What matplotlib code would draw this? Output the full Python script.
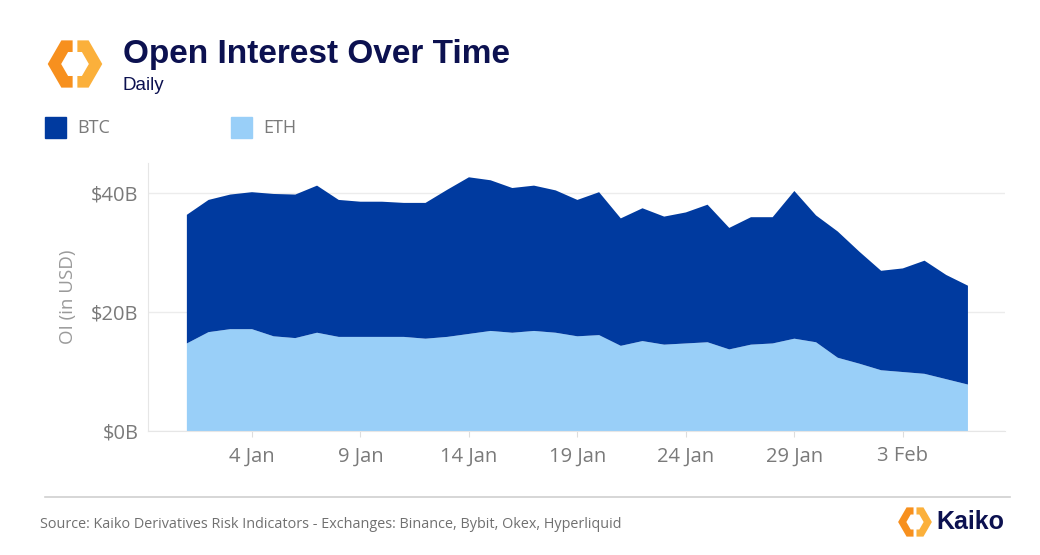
import matplotlib
matplotlib.use("Agg")
import matplotlib.pyplot as plt
import matplotlib.dates as mdates
import pandas as pd

# daily open interest, $B
dates = pd.date_range("2025-01-01", "2025-02-06", freq="D")
eth = [14.7, 16.6, 17.1, 17.1, 15.9, 15.6, 16.5, 15.8, 15.8, 15.8, 15.8, 15.5,
       15.8, 16.3, 16.8, 16.5, 16.8, 16.5, 15.9, 16.1, 14.3, 15.1, 14.5, 14.7,
       14.9, 13.7, 14.5, 14.7, 15.5, 14.9, 12.3, 11.3, 10.2, 9.9, 9.6, 8.7, 7.8]
btc = [21.6, 22.2, 22.6, 23.0, 23.9, 24.1, 24.7, 23.0, 22.7, 22.7, 22.5, 22.8,
       24.7, 26.3, 25.3, 24.3, 24.4, 23.9, 22.9, 24.0, 21.4, 22.3, 21.5, 22.0,
       23.1, 20.4, 21.4, 21.2, 24.8, 21.3, 21.2, 18.8, 16.7, 17.4, 19.0, 17.5, 16.6]
yticks = [0, 20, 40]
ytick_labels = ["$0B", "$20B", "$40B"]

BTC_C = "#003a9f"
ETH_C = "#99cff8"
NAVY = "#0c1150"
GREY = "#7a7a7a"

fig = plt.figure(figsize=(10.4, 5.55), dpi=100)
fig.patch.set_facecolor("white")

ax = fig.add_axes([148 / 1040, 1 - 431 / 555, (1005 - 148) / 1040, (431 - 163) / 555])
ax.stackplot(dates, eth, btc, colors=[ETH_C, BTC_C], linewidth=0)
ax.set_ylim(0, 45)
ax.set_xlim(dates[0] - pd.Timedelta(hours=43), dates[-1] + pd.Timedelta(hours=41))
ax.set_yticks(yticks)
ax.set_yticklabels(ytick_labels)
ax.set_xticks(dates[3::5])
ax.xaxis.set_major_formatter(mdates.DateFormatter("%-d %b"))
ax.grid(axis="y", color="#ececec", linewidth=1)
ax.set_axisbelow(True)
for s in ["top", "right"]:
    ax.spines[s].set_visible(False)
for s in ["left", "bottom"]:
    ax.spines[s].set_color("#e6e6e6")
ax.tick_params(axis="y", length=0, pad=7, labelsize=14.5, labelcolor=GREY)
ax.tick_params(axis="x", length=4, color="#dddddd", pad=7, labelsize=14.5, labelcolor=GREY)
for lab in ax.get_xticklabels() + ax.get_yticklabels():
    lab.set_fontfamily("Open Sans")
ax.set_ylabel("OI (in USD)", fontsize=13.5, color="#9a9a9a", family="Open Sans")
ax.yaxis.set_label_coords((68 - 148) / 857, 0.5)
ax.yaxis.label.set_va("center")

# title block
fig.text(123 / 1040, 1 - 54 / 555, "Open Interest Over Time", fontsize=24, fontweight="bold",
         color=NAVY, family="Liberation Sans", va="center")
fig.text(123 / 1040, 1 - 86 / 555, "Daily", fontsize=13.5, color=NAVY,
         family="Liberation Sans", va="center")


def draw_logo(rect):
    lax = fig.add_axes(rect)
    lax.set_xlim(-1.1, 1.1)
    lax.set_ylim(-1.1, 1.1)
    lax.set_aspect("equal")
    lax.axis("off")
    r = 0.78
    h = 0.866 * r
    lw = rect[2] * 1040 * 0.135
    pieces = [
        ([(-0.09, h), (-0.5 * r, h), (-r, 0), (-0.5 * r, -h), (-0.09, -h)], "#f7901e"),
        ([(0.09, -h), (0.5 * r, -h), (r, 0), (0.5 * r, h), (0.09, h)], "#fbb03b"),
    ]
    for pts, c in pieces:
        xs, ys = zip(*pts)
        lax.plot(xs, ys, color=c, linewidth=lw, solid_joinstyle="miter", solid_capstyle="butt")


draw_logo([44 / 1040, 1 - 93 / 555, 62 / 1040, 58 / 555])

# legend
for x0, c, name in [(45, BTC_C, "BTC"), (231, ETH_C, "ETH")]:
    fig.patches.append(plt.Rectangle((x0 / 1040, 1 - 138 / 555), 21 / 1040, 21 / 555,
                                     transform=fig.transFigure, color=c))
    fig.text((x0 + 32) / 1040, 1 - 128 / 555, name, fontsize=13, color=GREY,
             family="Open Sans", va="center")

# footer
fig.add_artist(plt.Line2D([45 / 1040, 1010 / 1040], [1 - 497 / 555] * 2,
                          transform=fig.transFigure, color="#d0d0d0", linewidth=1.2))
fig.text(40 / 1040, 1 - 524 / 555,
         "Source: Kaiko Derivatives Risk Indicators - Exchanges: Binance, Bybit, Okex, Hyperliquid",
         fontsize=10.4, color="#707070", family="Open Sans", va="center")
draw_logo([896 / 1040, 1 - 540 / 555, 38 / 1040, 36 / 555])
fig.text(936 / 1040, 1 - 522 / 555, "Kaiko", fontsize=18, fontweight="bold", color=NAVY,
         family="Liberation Sans", va="center")

fig.savefig("out.png", dpi=100)
